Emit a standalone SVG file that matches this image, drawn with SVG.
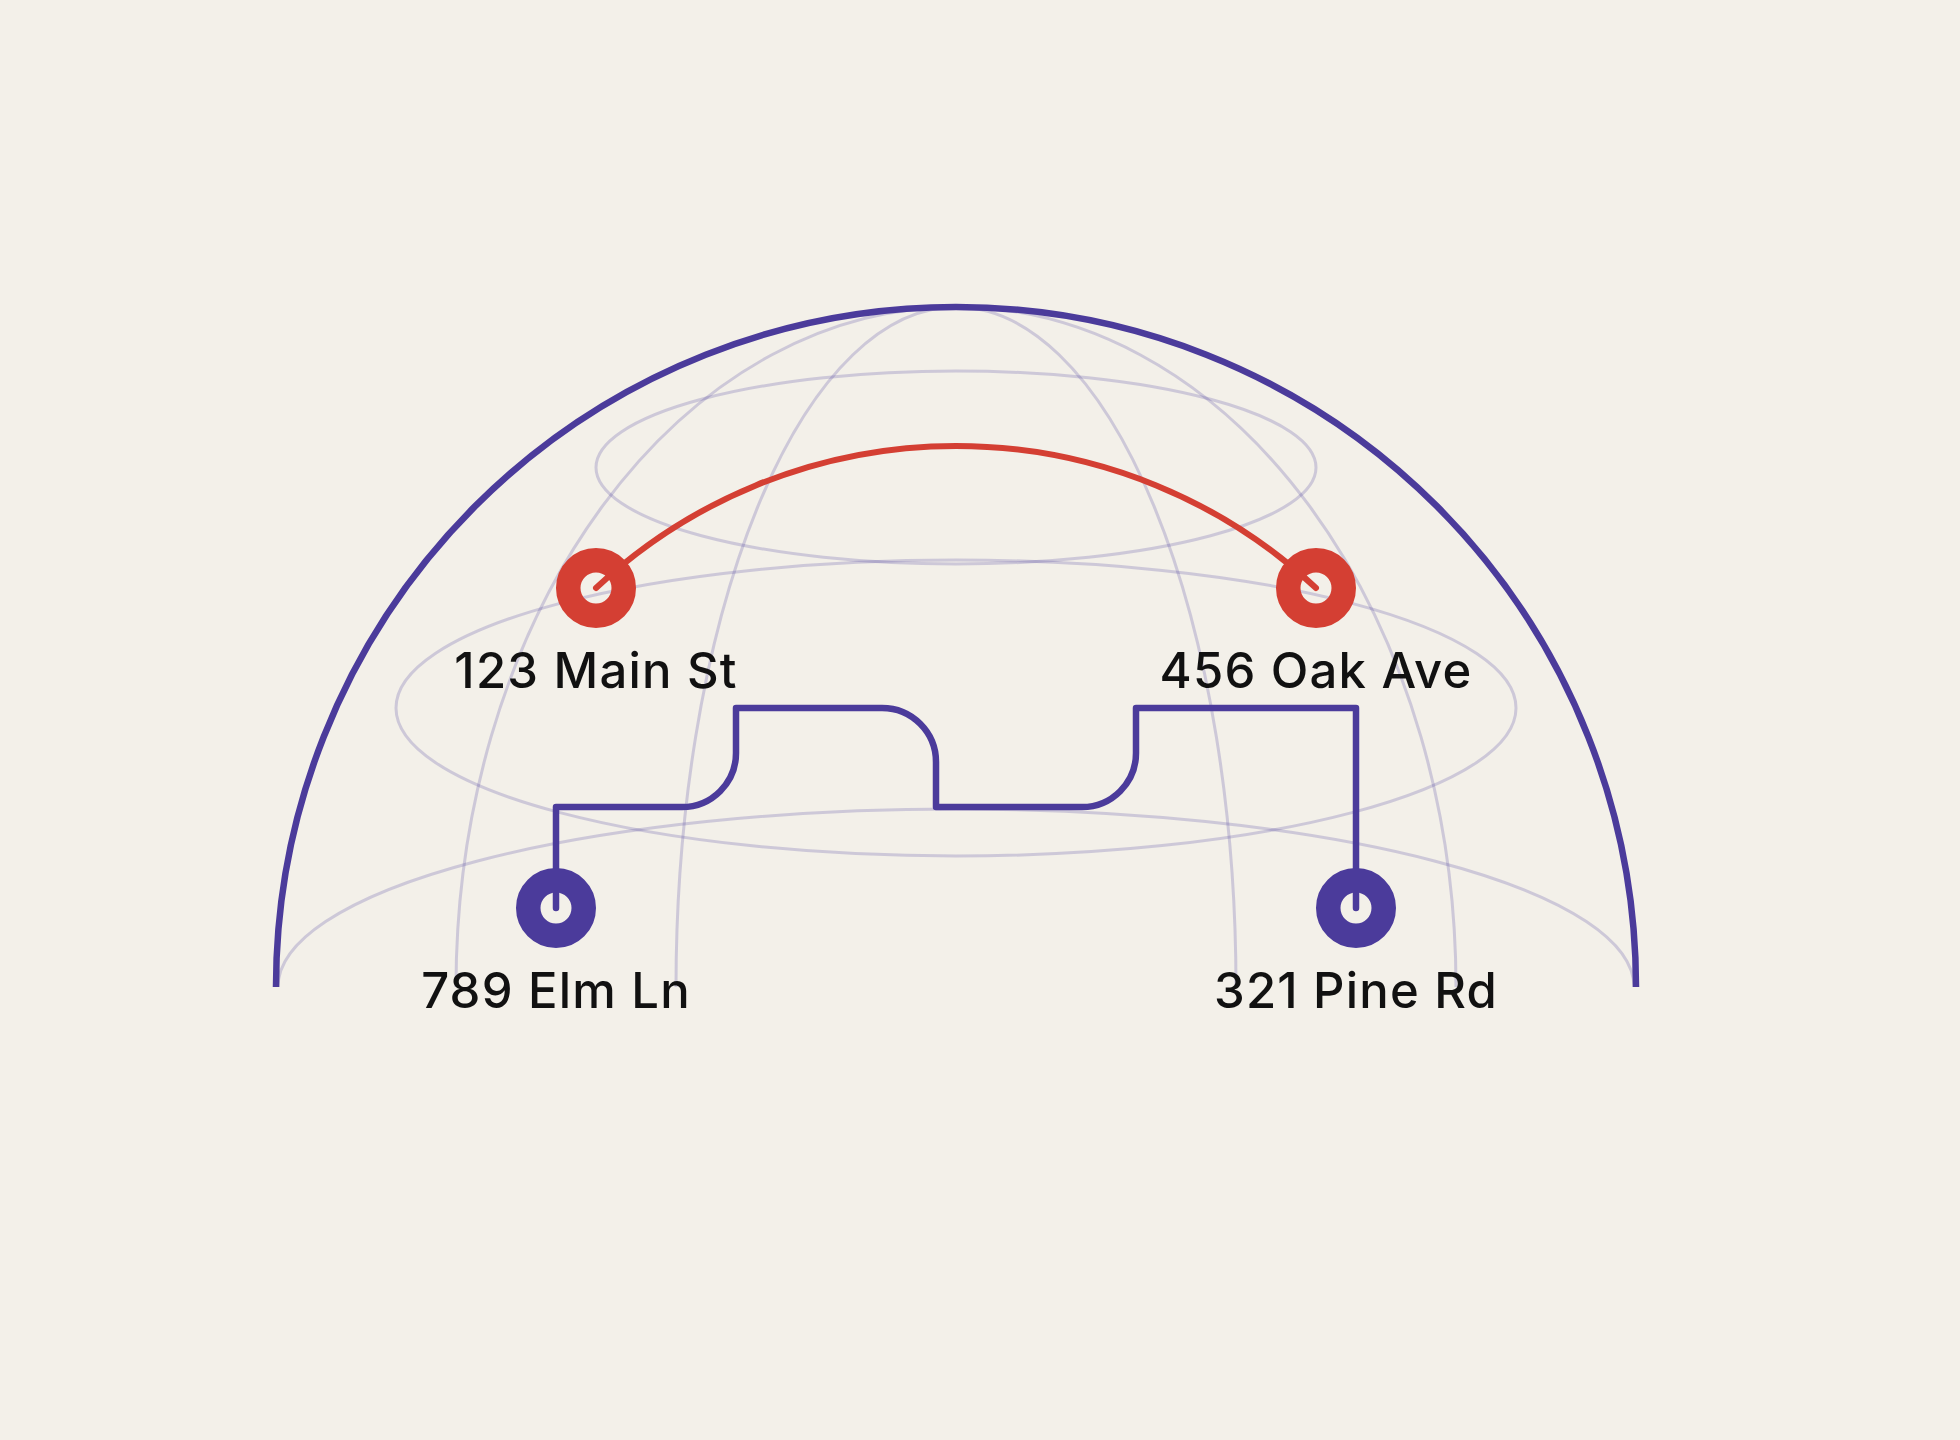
<svg xmlns="http://www.w3.org/2000/svg" width="1960" height="1440" viewBox="0 0 1960 1440">
<style>
.bg{fill:#f3f0e9}
.grid{fill:none;stroke:#4b3b9b;stroke-opacity:0.22;stroke-width:3}
.rim{fill:none;stroke:#4b3b9b;stroke-width:6.5}
.red{fill:none;stroke:#d43f33;stroke-width:6;stroke-linecap:round}
.pur{fill:none;stroke:#4b3b9b;stroke-width:6.5;stroke-linecap:round;stroke-linejoin:round}
.ringr{fill:none;stroke:#d43f33;stroke-width:24.5}
.ringp{fill:none;stroke:#4b3b9b;stroke-width:24.5}
.lbl{font-family:Inter,"Liberation Sans",sans-serif;font-size:49px;font-weight:500;letter-spacing:1.2px;fill:#111;text-anchor:middle}
</style>
<rect class="bg" x="0" y="0" width="1960" height="1440"/>
<g id="globe">
<ellipse class="grid" cx="956" cy="467.5" rx="360" ry="96.5"/>
<ellipse class="grid" cx="956" cy="708" rx="560" ry="148"/>
<path class="grid" d="M 278 987 A 678 178 0 0 1 1634 987"/>
<path class="grid" d="M 456 987 A 500 680 0 0 1 1456 987"/>
<path class="grid" d="M 676 987 A 280 680 0 0 1 1236 987"/>
<path class="rim" d="M 276 987 A 680 680 0 0 1 1636 987"/>
</g>
<g id="connectors">
<path class="red" d="M 596 588 A 527 527 0 0 1 1316 588"/>
<path class="pur" d="M 556 908 V 807 H 682 A 54 54 0 0 0 736 753 V 708 H 882 A 54 54 0 0 1 936 762 V 807 H 1082 A 54 54 0 0 0 1136 753 V 708 H 1356 V 908"/>
</g>
<g id="node-123-main">
<circle class="ringr" cx="596" cy="588" r="27.75"/>
<text class="lbl" x="596" y="688">123 Main St</text>
</g>
<g id="node-456-oak">
<circle class="ringr" cx="1316" cy="588" r="27.75"/>
<text class="lbl" x="1316" y="688">456 Oak Ave</text>
</g>
<g id="node-789-elm">
<circle class="ringp" cx="556" cy="908" r="27.75"/>
<text class="lbl" x="556" y="1008">789 Elm Ln</text>
</g>
<g id="node-321-pine">
<circle class="ringp" cx="1356" cy="908" r="27.75"/>
<text class="lbl" x="1356" y="1008">321 Pine Rd</text>
</g>
</svg>
